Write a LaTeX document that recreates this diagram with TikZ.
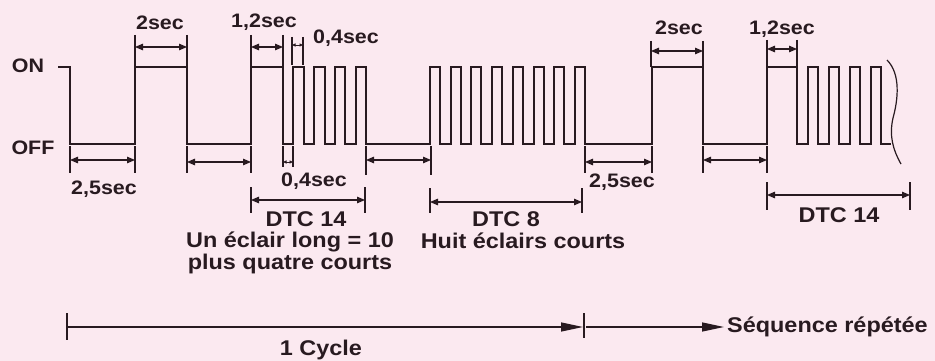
\documentclass[tikz,border=0pt]{standalone}
\usepackage{fontspec}
\setmainfont{Liberation Sans}[FakeStretch=1.1]
\usetikzlibrary{arrows.meta}
\definecolor{ink}{RGB}{40,26,32}
\definecolor{paper}{RGB}{251,233,240}
\tikzset{
  wave/.style    = {draw=ink, line width=2pt, line join=miter},
  ext/.style     = {draw=ink, line width=1.1pt},
  dim/.style     = {draw=ink, line width=1.1pt,
                    {Triangle[length=8pt,width=6.5pt]}-{Triangle[length=8pt,width=6.5pt]}},
  tinydim/.style = {draw=ink, line width=0.8pt,
                    {Triangle[length=3.5pt,width=3pt]}-{Triangle[length=3.5pt,width=3pt]}},
  cyc/.style     = {draw=ink, line width=1.3pt, -{Triangle[length=22pt,width=9pt]}},
  small/.style   = {text=ink, font=\fontsize{19.5}{21}\selectfont\bfseries, inner sep=0pt},
  big/.style     = {text=ink, font=\fontsize{21.3}{22}\selectfont\bfseries, inner sep=0pt,
                    align=center},
}
% time span: name, x1, x2, y of arrow, ext from, ext to, arrow style
\newcommand{\dimspan}[7]{%
  \coordinate (#1-a) at (#2,#4); \coordinate (#1-b) at (#3,#4);
  \draw[ext] (#2,#5) -- (#2,#6); \draw[ext] (#3,#5) -- (#3,#6);
  \draw[#7] (#1-a) -- (#1-b);}

\begin{document}
\begin{tikzpicture}[x=1pt, y=-1pt]
  \fill[paper] (0,0) rectangle (935,361);
  \useasboundingbox (0,0) rectangle (935,361);

  % levels
  \node[small] (on)  at (28,66)  {ON};
  \node[small] (off) at (33,148) {OFF};

  % signal
  \draw[wave] (58,67) -- (70,67) -- (70,144) -| (135,67) -| (187,144) -| (251,67) -| (283,144)
    foreach \x in {293.4,314.1,334.9,355.6} { -| (\x,67) -| ({\x+10.4},144) }
    foreach \k in {0,...,7} { -| ({430+20.7*\k},67) -| ({440+20.7*\k},144) }
    -| (652,67) -| (703,144) -| (767,67) -| (797,144)
    foreach \k in {0,...,3} { -| ({808+21*\k},67) -| ({818+21*\k},144) }
    -- (891,144);
  \draw[ext, line width=1.2pt] (887,60) .. controls (901,74) and (898,100) .. (893,118)
    .. controls (889,136) and (893,150) .. (901,164);

  % spans above
  \dimspan{onA}{135}{187}{47}{35}{67}{dim}
  \node[small] (tOnA) at (160,23) {2sec};
  \dimspan{longA}{251}{283}{47}{35}{67}{dim}
  \node[small] (tLongA) at (264,22) {1,2sec};
  \dimspan{shortOn}{292}{303}{45}{37}{65}{tinydim}
  \node[small] (tShortOn) at (346,38) {0,4sec};
  \dimspan{onB}{651}{703}{51}{41}{67}{dim}
  \node[small] (tOnB) at (679,28) {2sec};
  \dimspan{longB}{767}{797}{49}{40}{67}{dim}
  \node[small] (tLongB) at (782,29) {1,2sec};

  % spans below
  \dimspan{offA}{70}{135}{160}{146}{173}{dim}
  \node[small] (tOffA) at (104,189) {2,5sec};
  \dimspan{offB}{187}{251}{162}{146}{173}{dim}
  \dimspan{shortOff}{283}{293}{162}{146}{167}{tinydim}
  \node[small] (tShortOff) at (314,181) {0,4sec};
  \dimspan{offC}{366}{431}{160}{146}{175}{dim}
  \dimspan{offD}{585}{652}{162}{146}{173}{dim}
  \node[small] (tOffD) at (622,182) {2,5sec};
  \dimspan{offE}{703}{767}{160}{146}{173}{dim}

  % codes
  \dimspan{dtcA}{251}{365}{200}{187}{213}{dim}
  \node[big] (dtcA) at (306,219) {DTC 14};
  \node[big] (descA) at (290,253) {Un éclair long = 10\\plus quatre courts};
  \dimspan{dtcB}{430}{582}{202}{188}{213}{dim}
  \node[big] (dtcB) at (506,219) {DTC 8};
  \node[big] (descB) at (523,241) {Huit éclairs courts};
  \dimspan{dtcC}{767}{910}{195}{182}{210}{dim}
  \node[big] (dtcC) at (839,215) {DTC 14};

  % cycle
  \coordinate (cycS) at (67,327);
  \coordinate (cycE) at (584,327);
  \draw[ext, line width=1.6pt] (67,313) -- (67,340);
  \draw[ext] (584,313) -- (584,338);
  \draw[cyc] (cycS) -- ([xshift=-1pt]cycE);
  \node[big] (cycle) at (321,350) {1 Cycle};
  \node[big, anchor=west] (rep) at (727,327) {Séquence répétée};
  \draw[cyc, shorten >=3pt] ([xshift=2pt]cycE) -- (rep.west);
\end{tikzpicture}
\end{document}
